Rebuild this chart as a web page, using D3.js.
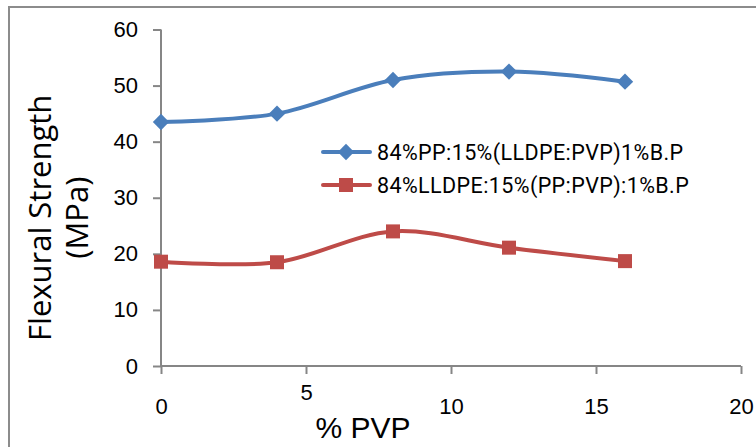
<!DOCTYPE html>
<html>
<head>
<meta charset="utf-8">
<script src="https://cdn.jsdelivr.net/npm/d3@7/dist/d3.min.js"></script>
<style>
  html, body { margin: 0; padding: 0; background: #fff; }
  svg { display: block; }
  .tick text { font-family: "Liberation Sans Narrow", "Arial Narrow", sans-serif; font-stretch: condensed; }
</style>
</head>
<body>
<svg id="chart" width="756" height="447"></svg>
<script>
const pvp = [0, 4, 8, 12, 16];
const ppSeries = [43.5, 45.0, 51.0, 52.5, 50.7];
const lldpeSeries = [18.6, 18.5, 24.0, 21.1, 18.7];
const seriesNames = ["84%PP:15%(LLDPE:PVP)1%B.P", "84%LLDPE:15%(PP:PVP):1%B.P"];
const xTicks = [0, 5, 10, 15, 20];
const yTicks = [0, 10, 20, 30, 40, 50, 60];

const svg = d3.select("#chart");
const blue = "#4a7ebb", red = "#be4b48", axisCol = "#868686";

// outer frame
svg.append("rect").attr("x", 9).attr("y", 7).attr("width", 800).attr("height", 500)
  .attr("fill", "none").attr("stroke", "#8c8c8c").attr("stroke-width", 2);

const x = d3.scaleLinear().domain([0, 20]).range([161, 741]);
const y = d3.scaleLinear().domain([0, 60]).range([366, 29.5]);

// y axis
const yAxis = svg.append("g").attr("transform", `translate(${x(0)},0)`)
  .call(d3.axisLeft(y).tickValues(yTicks).tickSize(8).tickPadding(15));
yAxis.select(".domain").attr("stroke", axisCol).attr("stroke-width", 2).attr("d", `M0,${y(60)}V${y(0)}`);
yAxis.selectAll(".tick line").attr("stroke", axisCol).attr("stroke-width", 2);
yAxis.selectAll(".tick text").attr("font-size", 22).attr("fill", "#000");

// x axis
const xAxis = svg.append("g").attr("transform", `translate(0,${y(0)})`)
  .call(d3.axisBottom(x).tickValues(xTicks).tickSize(8).tickPadding(24));
xAxis.select(".domain").attr("stroke", axisCol).attr("stroke-width", 2).attr("d", `M${x(0)},0H${x(20)}`);
xAxis.selectAll(".tick line").attr("stroke", axisCol).attr("stroke-width", 2);
xAxis.selectAll(".tick text").attr("font-size", 22).attr("fill", "#000")
  .attr("dy", d => d === 5 ? "0.1em" : "0.71em");

// axis titles
svg.append("text").attr("transform", `translate(51,${(y(0)+y(60))/2 + 20}) rotate(-90)`)
  .attr("text-anchor", "middle").attr("font-family", "'Open Sans', sans-serif")
  .attr("font-size", 31).attr("fill", "#000").text("Flexural Strength");
svg.append("text").attr("transform", `translate(88,${(y(0)+y(60))/2 + 20}) rotate(-90)`)
  .attr("text-anchor", "middle").attr("font-family", "'Open Sans', sans-serif")
  .attr("font-size", 31).attr("fill", "#000").text("(MPa)");
svg.append("text").attr("x", 363).attr("y", 438).attr("text-anchor", "middle")
  .attr("font-family", "'Liberation Sans Narrow', 'Arial Narrow', sans-serif").attr("font-stretch", "condensed")
  .attr("font-size", 30).attr("fill", "#000").text("% PVP");

const line = d3.line().x(d => x(d[0])).y(d => y(d[1])).curve(d3.curveCatmullRom.alpha(0));
const diamond = d3.symbol().type(d3.symbolDiamond2).size(170);

function drawSeries(vals, color, marker) {
  const pts = pvp.map((p, i) => [p, vals[i]]);
  svg.append("path").datum(pts).attr("d", line).attr("fill", "none")
    .attr("stroke", color).attr("stroke-width", 4).attr("stroke-linecap", "round");
  const g = svg.append("g");
  pts.forEach(p => {
    if (marker === "diamond") {
      g.append("path").attr("d", diamond).attr("transform", `translate(${x(p[0])},${y(p[1])})`).attr("fill", color);
    } else {
      g.append("rect").attr("x", x(p[0]) - 7).attr("y", y(p[1]) - 7).attr("width", 14).attr("height", 14).attr("fill", color);
    }
  });
}
drawSeries(ppSeries, blue, "diamond");
drawSeries(lldpeSeries, red, "square");

// legend
const leg = [[seriesNames[0], blue, "diamond", 152], [seriesNames[1], red, "square", 185]];
leg.forEach(([name, color, m, ly]) => {
  svg.append("line").attr("x1", 323).attr("x2", 370).attr("y1", ly).attr("y2", ly)
    .attr("stroke", color).attr("stroke-width", 4).attr("stroke-linecap", "round");
  if (m === "diamond") svg.append("path").attr("d", diamond).attr("transform", `translate(346,${ly})`).attr("fill", color);
  else svg.append("rect").attr("x", 339).attr("y", ly - 7).attr("width", 14).attr("height", 14).attr("fill", color);
  svg.append("text").attr("x", 377).attr("y", ly).attr("dy", "0.35em")
    .attr("font-family", "Roboto, sans-serif").attr("font-size", 21.5).attr("letter-spacing", 0.4)
    .attr("fill", "#000").text(name);
});
</script>
</body>
</html>
